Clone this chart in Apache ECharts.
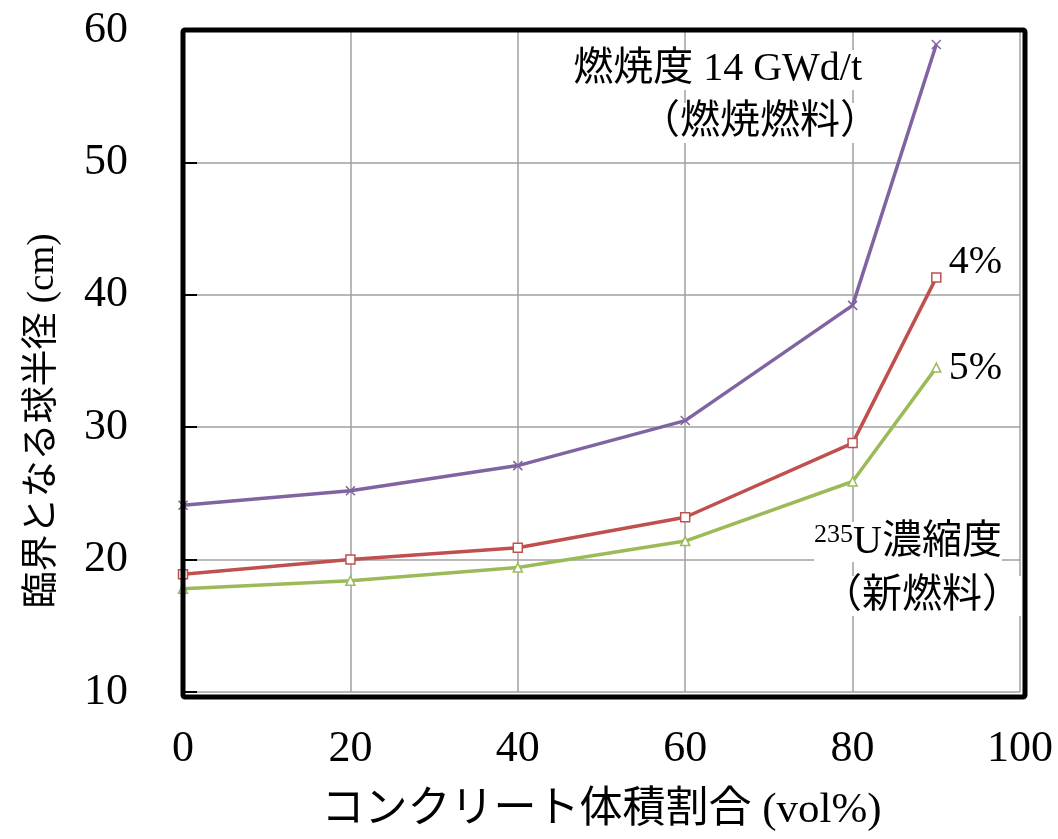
<!DOCTYPE html>
<html><head><meta charset="utf-8">
<script src="https://cdn.jsdelivr.net/npm/echarts@6/dist/echarts.min.js"></script>
<style>html,body{margin:0;padding:0;background:#fff}#c{width:1058px;height:839px}</style>
</head><body><div id="c"></div>
<script>
const xValues = [0, 20, 40, 60, 80, 90];
const burned14 = [24.1, 25.2, 27.1, 30.5, 39.2, 58.9];
const fresh4 = [18.9, 20.0, 20.9, 23.2, 28.8, 41.3];
const fresh5 = [17.8, 18.4, 19.4, 21.4, 25.9, 34.5];
const yTicks = [10, 20, 30, 40, 50, 60];
const xTicks = [0, 20, 40, 60, 80, 100];

const FONT = '"Liberation Serif", "Times New Roman", "Noto Sans CJK JP", serif';
const pairs = a => xValues.map((x, i) => [x, a[i]]);
const chart = echarts.init(document.getElementById('c'));
const G = {left: 183, top: 30, right: 38, bottom: 147};
const lbl = (text, right, y, extra) => Object.assign({
  type: 'text', right: right, top: y, z: 5,
  style: Object.assign({text: text, font: '40px ' + FONT, fill: '#000', backgroundColor: '#fff', textAlign: 'right'}, extra || {})
});
chart.setOption({
  animation: false,
  backgroundColor: '#fff',
  grid: Object.assign({outerBoundsMode: 'none', containLabel: false, show: false}, G),
  xAxis: {
    type: 'value', min: 0, max: 100, interval: 20,
    name: 'コンクリート体積割合 (vol%)', nameLocation: 'middle', nameGap: 97,
    nameTextStyle: {fontFamily: FONT, fontSize: 43, color: '#000'},
    axisLine: {show: false}, axisTick: {show: false},
    axisLabel: {fontFamily: FONT, fontSize: 44, color: '#000', margin: 35},
    splitLine: {show: true, lineStyle: {color: '#a0a0a0', width: 1.5}}
  },
  yAxis: {
    type: 'value', min: 10, max: 60, interval: 10,
    axisLine: {show: false},
    axisTick: {show: true, inside: true, length: 14, lineStyle: {color: '#000', width: 2}},
    axisLabel: {fontFamily: FONT, fontSize: 44, color: '#000', margin: 55},
    splitLine: {show: true, lineStyle: {color: '#a0a0a0', width: 1.5}}
  },
  series: [
    {type: 'line', data: pairs(burned14), symbol: 'path://M0,0L10,10M10,0L0,10', symbolSize: 9,
     lineStyle: {color: '#8064a2', width: 3.5}, itemStyle: {color: '#8064a2', borderColor: '#8064a2', borderWidth: 1.5}, z: 3},
    {type: 'line', data: pairs(fresh4), symbol: 'rect', symbolSize: 9,
     lineStyle: {color: '#c0504d', width: 3.5}, itemStyle: {color: '#fff', borderColor: '#c0504d', borderWidth: 1.5}, z: 3},
    {type: 'line', data: pairs(fresh5), symbol: 'triangle', symbolSize: 9,
     lineStyle: {color: '#9bbb59', width: 3.5}, itemStyle: {color: '#fff', borderColor: '#9bbb59', borderWidth: 1.5}, z: 3}
  ],
  graphic: [
    {type: 'rect', left: G.left - 2.5, top: G.top - 2.5, z: 10, silent: true,
     shape: {width: 1058 - G.left - G.right + 5, height: 839 - G.top - G.bottom + 5, r: 2},
     style: {fill: 'none', stroke: '#000', lineWidth: 5}},
    {type: 'text', x: 43, y: 421, rotation: Math.PI / 2, z: 5,
     style: {text: '臨界となる球半径 (cm)', font: '37px ' + FONT, fill: '#000', textAlign: 'center', textVerticalAlign: 'middle'}},
    lbl('燃焼度 14 GWd/t', 196, 50),
    lbl('（燃焼燃料）', 178, 103),
    lbl('4%', 56, 242, {backgroundColor: null}),
    lbl('5%', 56, 348, {backgroundColor: null}),
    {type: 'text', right: 56, top: 522, z: 5,
     style: {rich: {s: {font: '26px ' + FONT, verticalAlign: 'top', padding: [0,0,14,0]}, n: {font: '40px ' + FONT}},
             text: '{s|235}{n|U濃縮度}', fill: '#000', backgroundColor: '#fff'}},
    lbl('（新燃料）', 36, 576)
  ]
});
</script></body></html>
